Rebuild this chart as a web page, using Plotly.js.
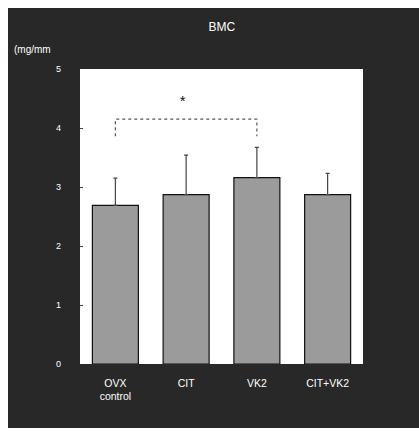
<!DOCTYPE html>
<html>
<head>
<meta charset="utf-8">
<script src="https://cdn.plot.ly/plotly-3.0.1.min.js"></script>
<style>
html,body{margin:0;padding:0;background:#ffffff;width:419px;height:431px;overflow:hidden;}
#chart{position:absolute;left:8px;top:8px;width:411px;height:420px;}
</style>
</head>
<body>
<div id="chart"></div>
<script>
// Data
const categories = ["OVX<br>control", "CIT", "VK2", "CIT+VK2"];
const meanValues = [2.69, 2.87, 3.16, 2.87];
const sdValues = [0.46, 0.67, 0.51, 0.36];
const yTickVals = [0, 1, 2, 3, 4, 5];
const yTickText = ["0", "1", "2", "3", "4", "5"];
// significance bracket between OVX control and VK2
const bracketX = [0, 0, 2, 2];
const bracketY = [3.86, 4.15, 4.15, 3.86];
const starX = [0.95];
const starY = [4.44];
const starText = ["*"];

const xIdx = categories.map((c, i) => i);

const traces = [
  {
    type: "bar",
    x: xIdx,
    y: meanValues,
    width: 0.65,
    marker: { color: "#9b9b9b", line: { color: "#111111", width: 1.2 } },
    error_y: { type: "data", array: sdValues, symmetric: false, arrayminus: sdValues.map(() => 0),
               color: "#444444", thickness: 1.2, width: 2 },
    hoverinfo: "none"
  },
  {
    type: "scatter",
    mode: "lines",
    x: bracketX,
    y: bracketY,
    line: { color: "#555555", width: 1.2, dash: "dot" },
    hoverinfo: "none"
  },
  {
    type: "scatter",
    mode: "text",
    x: starX,
    y: starY,
    text: starText,
    textfont: { family: "Liberation Sans, Arial, sans-serif", size: 15, color: "#111111" },
    hoverinfo: "none"
  }
];

const layout = {
  width: 411,
  height: 420,
  margin: { l: 72, r: 56, t: 61, b: 64 },
  paper_bgcolor: "#282828",
  plot_bgcolor: "#ffffff",
  showlegend: false,
  title: {
    text: "BMC",
    x: 0.52, xanchor: "center",
    y: 1 - 19 / 420, yanchor: "middle",
    font: { family: "Liberation Sans, Arial, sans-serif", size: 12, color: "#ffffff" }
  },
  xaxis: {
    range: [-0.5, 3.5],
    tickmode: "array",
    tickvals: xIdx,
    ticktext: categories,
    showgrid: false,
    zeroline: false,
    showline: false,
    ticks: "",
    tickfont: { family: "Liberation Sans, Arial, sans-serif", size: 10.5, color: "#ffffff" },
    ticklabelstandoff: 11
  },
  yaxis: {
    range: [0, 5],
    tickmode: "array",
    tickvals: yTickVals,
    ticktext: yTickText,
    showgrid: false,
    zeroline: false,
    showline: false,
    ticks: "inside",
    ticklen: 3,
    tickcolor: "#444444",
    tickfont: { family: "Liberation Sans, Arial, sans-serif", size: 9, color: "#ffffff" },
    ticklabelstandoff: 18
  },
  annotations: [
    {
      text: "(mg/mm",
      xref: "paper", yref: "paper",
      x: -0.24, xanchor: "left",
      y: (356 - 42) / 295, yanchor: "middle",
      showarrow: false,
      font: { family: "Liberation Sans, Arial, sans-serif", size: 10, color: "#ffffff" }
    }
  ]
};

Plotly.newPlot("chart", traces, layout, { displayModeBar: false, staticPlot: true });
</script>
</body>
</html>
